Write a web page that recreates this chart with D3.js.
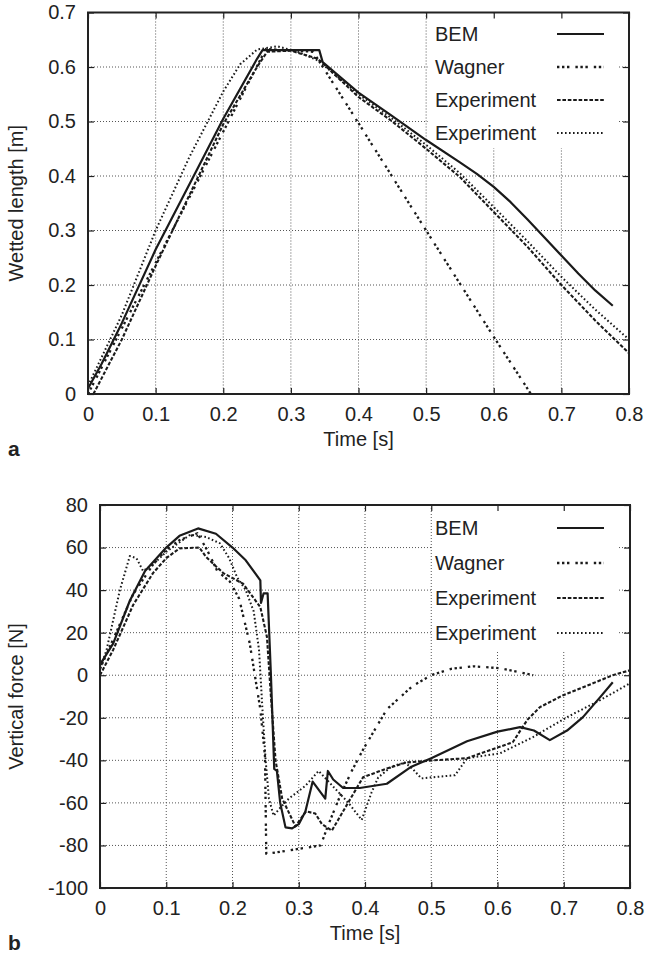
<!DOCTYPE html>
<html>
<head>
<meta charset="utf-8">
<script src="https://cdn.jsdelivr.net/npm/d3@7"></script>
<style>
body { margin: 0; background: #fff; }
svg text { font-family: "Liberation Sans", Arial, Helvetica, sans-serif; fill: #222; }
</style>
</head>
<body>
<div class="chart"></div>
<script>
var svgWidth = 645
var svgHeight = 954

// shared time axis
var timeTicks = [0, 0.1, 0.2, 0.3, 0.4, 0.5, 0.6, 0.7, 0.8];
var timeLabels = ["0", "0.1", "0.2", "0.3", "0.4", "0.5", "0.6", "0.7", "0.8"];

// panel a: wetted length [m]
var lengthTicks = [0, 0.1, 0.2, 0.3, 0.4, 0.5, 0.6, 0.7];
var lengthLabels = ["0", "0.1", "0.2", "0.3", "0.4", "0.5", "0.6", "0.7"];

var lengthBem = [[0, 0.01], [0.02, 0.055], [0.05, 0.13], [0.1, 0.265], [0.15, 0.385], [0.2, 0.505],
    [0.25, 0.615], [0.258, 0.631], [0.342, 0.631], [0.347, 0.609], [0.4, 0.553], [0.45, 0.51],
    [0.5, 0.466], [0.55, 0.425], [0.575, 0.404], [0.6, 0.38], [0.625, 0.352], [0.65, 0.32],
    [0.675, 0.287], [0.7, 0.254], [0.725, 0.221], [0.75, 0.19], [0.776, 0.162]];
var lengthWagner = [[0, 0], [0.263, 0.633], [0.333, 0.628], [0.4, 0.497], [0.5, 0.3], [0.6, 0.105], [0.655, 0]];
var lengthExpA = [[0.008, 0], [0.05, 0.1], [0.1, 0.235], [0.15, 0.365], [0.2, 0.495], [0.25, 0.6],
    [0.265, 0.628], [0.3, 0.63], [0.34, 0.615], [0.4, 0.545], [0.45, 0.5], [0.5, 0.45], [0.55, 0.398],
    [0.6, 0.334], [0.65, 0.27], [0.7, 0.2], [0.75, 0.135], [0.8, 0.075]];
var lengthExpB = [[0, 0.015], [0.05, 0.145], [0.1, 0.3], [0.15, 0.435], [0.2, 0.555], [0.225, 0.605],
    [0.25, 0.632], [0.28, 0.638], [0.31, 0.628], [0.34, 0.612], [0.4, 0.55], [0.45, 0.505], [0.5, 0.457],
    [0.55, 0.405], [0.6, 0.343], [0.65, 0.28], [0.7, 0.215], [0.75, 0.155], [0.8, 0.1]];

// panel b: vertical force [N]
var forceTicks = [-100, -80, -60, -40, -20, 0, 20, 40, 60, 80];
var forceLabels = ["-100", "-80", "-60", "-40", "-20", "0", "20", "40", "60", "80"];

var forceBem = [[0, 5], [0.02, 15], [0.045, 35], [0.068, 49], [0.1, 60], [0.12, 65.5], [0.148, 69],
    [0.175, 66.5], [0.2, 60], [0.22, 54], [0.242, 44.6], [0.243, 34], [0.247, 38.5], [0.253, 38.5],
    [0.258, 0], [0.263, -44], [0.267, -45], [0.272, -60], [0.28, -71.5], [0.29, -72], [0.3, -70],
    [0.31, -64], [0.321, -50], [0.34, -58], [0.344, -45], [0.352, -49], [0.367, -53], [0.392, -53],
    [0.433, -51], [0.47, -43], [0.5, -39], [0.554, -31], [0.6, -26.5], [0.634, -24.4], [0.655, -26],
    [0.679, -30.5], [0.705, -26], [0.729, -19.7], [0.755, -10.3], [0.774, -3.3]];
var forceWagner = [[0, 3], [0.02, 17], [0.05, 38], [0.08, 52], [0.1, 59], [0.12, 63.5], [0.147, 66.7],
    [0.162, 58.7], [0.177, 49], [0.196, 44], [0.21, 36], [0.226, 15], [0.242, -16], [0.249, -38],
    [0.251, -84], [0.333, -80], [0.345, -70], [0.362, -57], [0.38, -45], [0.397, -35], [0.433, -16],
    [0.472, -5], [0.5, 0], [0.53, 3], [0.563, 4.2], [0.604, 3.3], [0.654, 0]];
var forceExpA = [[0, 0], [0.02, 12], [0.05, 33], [0.08, 48], [0.1, 55], [0.12, 59.6], [0.15, 60],
    [0.16, 55.6], [0.186, 48], [0.216, 43], [0.242, 32], [0.252, 18], [0.258, -10], [0.265, -40],
    [0.275, -58], [0.295, -71], [0.311, -64], [0.325, -65], [0.335, -70], [0.35, -73], [0.365, -65],
    [0.38, -57], [0.397, -48], [0.433, -43.8], [0.463, -41], [0.503, -40], [0.554, -39], [0.6, -34],
    [0.623, -31.5], [0.645, -21], [0.664, -15], [0.699, -9.4], [0.744, -3.8], [0.774, 0], [0.8, 2.3]];
var forceExpB = [[0, 3], [0.01, 12], [0.03, 40], [0.045, 56], [0.055, 55], [0.065, 49], [0.08, 52],
    [0.1, 58], [0.136, 66], [0.16, 65], [0.181, 62], [0.195, 55], [0.207, 46], [0.22, 40], [0.232, 30],
    [0.24, 12], [0.245, -15], [0.25, -40], [0.255, -58], [0.262, -66], [0.27, -63], [0.285, -58],
    [0.31, -52], [0.33, -45], [0.345, -50], [0.36, -55], [0.375, -60], [0.395, -68], [0.41, -55],
    [0.42, -48], [0.44, -43], [0.46, -41], [0.472, -44], [0.485, -48.5], [0.5, -48], [0.536, -47],
    [0.554, -39], [0.604, -36.7], [0.654, -29], [0.705, -19.7], [0.755, -11.7], [0.8, -3.8]];

var legendNames = ["BEM", "Wagner", "Experiment", "Experiment"];

// line styles, same order as legendNames
var styles = [
    { dash: null, width: 2.2 },
    { dash: "2.4,2.6,2.4,2.6,2.4,6", width: 2.3 },
    { dash: "3.6,1.8", width: 2.1 },
    { dash: "1.6,2.4", width: 2 }
];

var svg = d3.select(".chart")
    .append("svg")
    .attr("width", svgWidth)
    .attr("height", svgHeight);

svg.append("rect").attr("width", svgWidth).attr("height", svgHeight).attr("fill", "#fff");

function drawPanel(p) {
    var x = d3.scaleLinear().domain([0, 0.8]).range([p.left, p.right]);
    var y = d3.scaleLinear().domain([p.yTicks[0], p.yTicks[p.yTicks.length - 1]]).range([p.bottom, p.top]);
    var g = svg.append("g");
    var clipId = "clip-" + p.name;

    g.append("clipPath").attr("id", clipId)
        .append("rect")
        .attr("x", p.left).attr("y", p.top)
        .attr("width", p.right - p.left).attr("height", p.bottom - p.top);

    // dotted grid
    var grid = g.append("g")
        .attr("stroke", "#555")
        .attr("stroke-width", 1)
        .attr("stroke-dasharray", "1,2");
    grid.selectAll(".vgrid")
        .data(timeTicks.slice(1, -1))
        .enter().append("line")
        .attr("x1", d => x(d)).attr("x2", d => x(d))
        .attr("y1", p.top).attr("y2", p.bottom);
    grid.selectAll(".hgrid")
        .data(p.yTicks.slice(1, -1))
        .enter().append("line")
        .attr("x1", p.left).attr("x2", p.right)
        .attr("y1", d => y(d)).attr("y2", d => y(d));

    // opaque key box
    g.append("rect")
        .attr("x", x(0.5) + 1.5)
        .attr("y", p.top + 1)
        .attr("width", 617 - x(0.5) - 1.5)
        .attr("height", p.keyBottom - p.top - 1)
        .attr("fill", "#fff");

    legendNames.forEach(function(name, i) {
        var ly = p.keyTop + i * p.keyStep;
        g.append("text")
            .attr("x", 435)
            .attr("y", ly)
            .attr("dy", "0.35em")
            .attr("font-size", 20)
            .text(name);
        g.append("line")
            .attr("x1", 557).attr("x2", 604)
            .attr("y1", ly).attr("y2", ly)
            .attr("stroke", "#1a1a1a")
            .attr("stroke-width", styles[i].width)
            .attr("stroke-dasharray", styles[i].dash);
    });

    var line = d3.line()
        .x(d => x(d[0]))
        .y(d => y(d[1]));

    g.append("g")
        .attr("clip-path", "url(#" + clipId + ")")
        .selectAll("path")
        .data(p.series)
        .enter().append("path")
        .attr("d", d => line(d))
        .attr("fill", "none")
        .attr("stroke", "#1a1a1a")
        .attr("stroke-linejoin", "round")
        .attr("stroke-width", (d, i) => styles[i].width)
        .attr("stroke-dasharray", (d, i) => styles[i].dash);

    // axes with inward ticks on all four sides
    var bottomAxis = d3.axisBottom(x)
        .tickValues(timeTicks)
        .tickFormat((d, i) => timeLabels[i])
        .tickSizeInner(-6).tickSizeOuter(0).tickPadding(13);
    var leftAxis = d3.axisLeft(y)
        .tickValues(p.yTicks)
        .tickFormat((d, i) => p.yLabels[i])
        .tickSizeInner(-6).tickSizeOuter(0).tickPadding(12);
    var topAxis = d3.axisTop(x).tickValues(timeTicks).tickFormat("").tickSizeInner(-6).tickSizeOuter(0);
    var rightAxis = d3.axisRight(y).tickValues(p.yTicks).tickFormat("").tickSizeInner(-6).tickSizeOuter(0);

    var axes = [
        g.append("g").attr("transform", `translate(0, ${p.bottom})`).call(bottomAxis),
        g.append("g").attr("transform", `translate(${p.left}, 0)`).call(leftAxis),
        g.append("g").attr("transform", `translate(0, ${p.top})`).call(topAxis),
        g.append("g").attr("transform", `translate(${p.right}, 0)`).call(rightAxis)
    ];
    axes.forEach(function(a) {
        a.select(".domain").remove();
        a.selectAll(".tick line").attr("stroke", "#222").attr("stroke-width", 1.2);
        a.selectAll(".tick text")
            .attr("font-size", 20)
            .attr("font-family", "Liberation Sans, Arial, sans-serif")
            .attr("fill", "#222");
    });

    g.append("rect")
        .attr("x", p.left).attr("y", p.top)
        .attr("width", p.right - p.left).attr("height", p.bottom - p.top)
        .attr("fill", "none")
        .attr("stroke", "#222")
        .attr("stroke-width", 2);

    // titles
    g.append("text")
        .attr("x", (p.left + p.right) / 2)
        .attr("y", p.bottom + 45)
        .attr("dy", "0.35em")
        .attr("text-anchor", "middle")
        .attr("font-size", 20)
        .text("Time [s]");
    g.append("text")
        .attr("transform", `translate(16, ${(p.top + p.bottom) / 2}) rotate(-90)`)
        .attr("dy", "0.35em")
        .attr("text-anchor", "middle")
        .attr("font-size", 20)
        .text(p.yTitle);
    g.append("text")
        .attr("x", 8)
        .attr("y", p.bottom + 55)
        .attr("dy", "0.35em")
        .attr("font-size", 21)
        .attr("font-weight", "bold")
        .text(p.name);
}

drawPanel({
    name: "a",
    left: 88, right: 629, top: 12.5, bottom: 394,
    yTicks: lengthTicks, yLabels: lengthLabels,
    yTitle: "Wetted length [m]",
    series: [lengthBem, lengthWagner, lengthExpA, lengthExpB],
    keyTop: 34, keyStep: 33, keyBottom: 148
});

drawPanel({
    name: "b",
    left: 100, right: 630, top: 505, bottom: 888,
    yTicks: forceTicks, yLabels: forceLabels,
    yTitle: "Vertical force [N]",
    series: [forceBem, forceWagner, forceExpA, forceExpB],
    keyTop: 528, keyStep: 35, keyBottom: 650
});
</script>
</body>
</html>
